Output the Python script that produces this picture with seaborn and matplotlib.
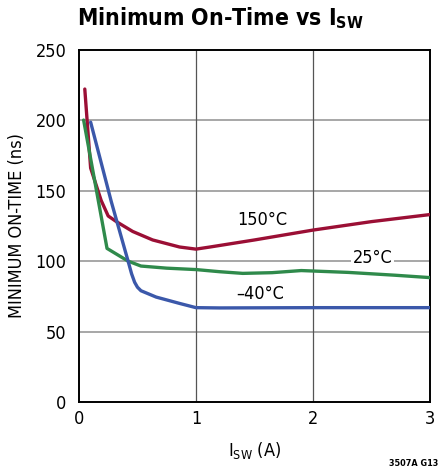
import pandas as pd
import matplotlib.pyplot as plt
import seaborn as sns

# curves
isw_150 = [0.05, 0.1, 0.19, 0.25, 0.32, 0.46, 0.63, 0.86, 1.0, 1.12, 1.5, 2.0, 2.5, 3.0]
t_150 = [222, 166, 143, 132, 128, 121, 115, 110, 108.5, 110, 115, 122, 128, 133]

isw_25 = [0.04, 0.24, 0.42, 0.53, 0.75, 1.0, 1.2, 1.4, 1.65, 1.9, 2.3, 2.7, 3.0]
t_25 = [200, 109, 100, 96.5, 95, 94, 92.5, 91.3, 91.8, 93.3, 92, 90, 88.3]

isw_m40 = [0.1, 0.277, 0.42, 0.45, 0.476, 0.5, 0.53, 0.66, 0.86, 1.0, 1.2, 2.0, 3.0]
t_m40 = [198.5, 142, 100, 91, 85, 81.5, 79, 74.5, 70, 67, 66.8, 67, 67]

x_ticks = [0, 1, 2, 3]
y_ticks = [0, 50, 100, 150, 200, 250]

colors = {"150°C": "#9b0f35", "25°C": "#2f8a4b", "–40°C": "#3b58aa"}

df = pd.concat([
    pd.DataFrame({"isw": isw_150, "t": t_150, "temp": "150°C"}),
    pd.DataFrame({"isw": isw_25, "t": t_25, "temp": "25°C"}),
    pd.DataFrame({"isw": isw_m40, "t": t_m40, "temp": "–40°C"}),
])

sns.set_style("white")
plt.rcParams['font.family'] = ['DejaVu Sans']
plt.rcParams['font.stretch'] = 'condensed'
plt.rcParams['mathtext.default'] = 'regular'
plt.rcParams['text.color'] = 'black'
plt.rcParams['axes.labelcolor'] = 'black'
plt.rcParams['xtick.color'] = 'black'
plt.rcParams['ytick.color'] = 'black'

fig = plt.figure(figsize=(4.41, 4.72), dpi=100)
ax = fig.add_axes([0.179, 0.148, 0.796, 0.747])

# grid: light horizontal lines, darker thin verticals
for y in [50, 100, 150, 200]:
    ax.axhline(y, color="#a0a0a0", lw=1.3, zorder=1)
for x in [1, 2]:
    ax.axvline(x, color="#555555", lw=0.9, zorder=1)

sns.lineplot(data=df, x="isw", y="t", hue="temp", palette=colors,
             sort=False, estimator=None, lw=2.4, legend=False, ax=ax, zorder=3)

ax.set_xlim(0, 3)
ax.set_ylim(0, 250)
ax.set_xticks(x_ticks)
ax.set_yticks(y_ticks)
ax.tick_params(length=0, labelsize=13)
ax.tick_params(axis="y", pad=9)
ax.tick_params(axis="x", pad=6)
for s in ax.spines.values():
    s.set_color("black")
    s.set_linewidth(1.4)

ax.set_xlabel("I$_{SW}$ (A)", fontsize=13, labelpad=8)
ax.set_ylabel("MINIMUM ON-TIME (ns)", fontsize=13, labelpad=7)

ax.text(1.57, 129, "150°C", fontsize=13, ha="center", va="center", zorder=4)
ax.text(2.51, 102, "25°C", fontsize=13, ha="center", va="center", zorder=4,
        bbox=dict(facecolor="white", edgecolor="none", pad=1))
ax.text(1.545, 77, "–40°C", fontsize=13, ha="center", va="center", zorder=4)

fig.text(0.174, 0.962, "Minimum On-Time vs I$_{SW}$", fontsize=16.5, fontweight="bold",
         ha="left", va="center")
fig.text(0.993, 0.018, "3507A G13", fontsize=6.5, fontweight="bold", ha="right", va="center")

fig.savefig("out.png", dpi=100)
